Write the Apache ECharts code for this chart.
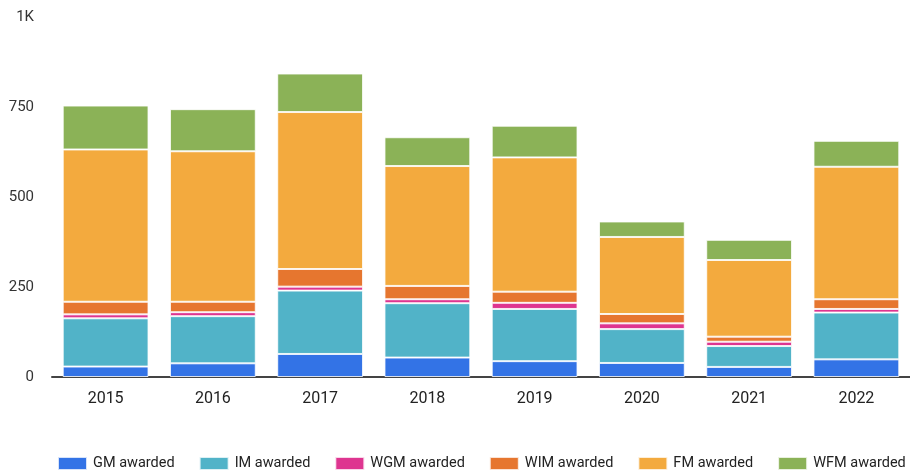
<!DOCTYPE html>
<html>
<head>
<meta charset="utf-8">
<title>Titles awarded per year</title>
<script src="https://cdn.jsdelivr.net/npm/echarts@6/dist/echarts.min.js"></script>
<style>
  html, body { margin: 0; padding: 0; background: #fff; }
  #chart { width: 910px; height: 471px; }
</style>
</head>
<body>
<div id="chart"></div>
<script>
// years on the x axis
var years = ['2015', '2016', '2017', '2018', '2019', '2020', '2021', '2022'];

// titles awarded per year
var gmAwarded  = [29, 38, 64, 54, 44, 39, 28, 49];
var imAwarded  = [134, 131, 176, 151, 145, 94, 58, 130];
var wgmAwarded = [11, 11, 11, 11, 17, 16, 12, 10];
var wimAwarded = [35, 29, 49, 37, 31, 26, 14, 27];
var fmAwarded  = [423, 418, 436, 333, 373, 214, 213, 368];
var wfmAwarded = [122, 117, 107, 80, 88, 43, 56, 72];

var yTicks = [0, 250, 500, 750, 1000];

var colors = ['#3373e6', '#51b3c8', '#de3590', '#e6762f', '#f3aa3e', '#8bb257'];

var chart = echarts.init(document.getElementById('chart'));

function bar(name, data) {
    return {
        name: name,
        type: 'bar',
        stack: 'total',
        barCategoryGap: '20%',
        data: data,
        itemStyle: { borderColor: 'rgba(255,255,255,0.8)', borderWidth: 1 }
    };
}

var option = {
    animation: false,
    color: colors,
    textStyle: { fontFamily: 'Roboto' },
    grid: { left: 52, right: 0, top: 17, bottom: 94 },
    legend: {
        left: 52,
        top: 451,
        width: 1200,
        itemWidth: 29,
        itemHeight: 13,
        itemGap: 24,
        icon: 'rect',
        textStyle: { fontSize: 14.5, color: '#222', padding: [0, 0, 0, 1] },
        data: ['GM awarded', 'IM awarded', 'WGM awarded', 'WIM awarded', 'FM awarded', 'WFM awarded']
    },
    xAxis: {
        type: 'category',
        data: years,
        axisTick: { show: false },
        axisLine: { lineStyle: { color: '#444', width: 2 } },
        axisLabel: { fontSize: 16, color: '#222', margin: 14 }
    },
    yAxis: {
        type: 'value',
        min: yTicks[0],
        max: yTicks[yTicks.length - 1],
        interval: 250,
        splitLine: { show: false },
        axisLine: { show: false },
        axisTick: { show: false },
        axisLabel: {
            fontSize: 15,
            color: '#333',
            margin: 18,
            formatter: function (v) { return v >= 1000 ? (v / 1000) + 'K' : v; }
        }
    },
    series: [
        bar('GM awarded', gmAwarded),
        bar('IM awarded', imAwarded),
        bar('WGM awarded', wgmAwarded),
        bar('WIM awarded', wimAwarded),
        bar('FM awarded', fmAwarded),
        bar('WFM awarded', wfmAwarded)
    ]
};

chart.setOption(option);
</script>
</body>
</html>
